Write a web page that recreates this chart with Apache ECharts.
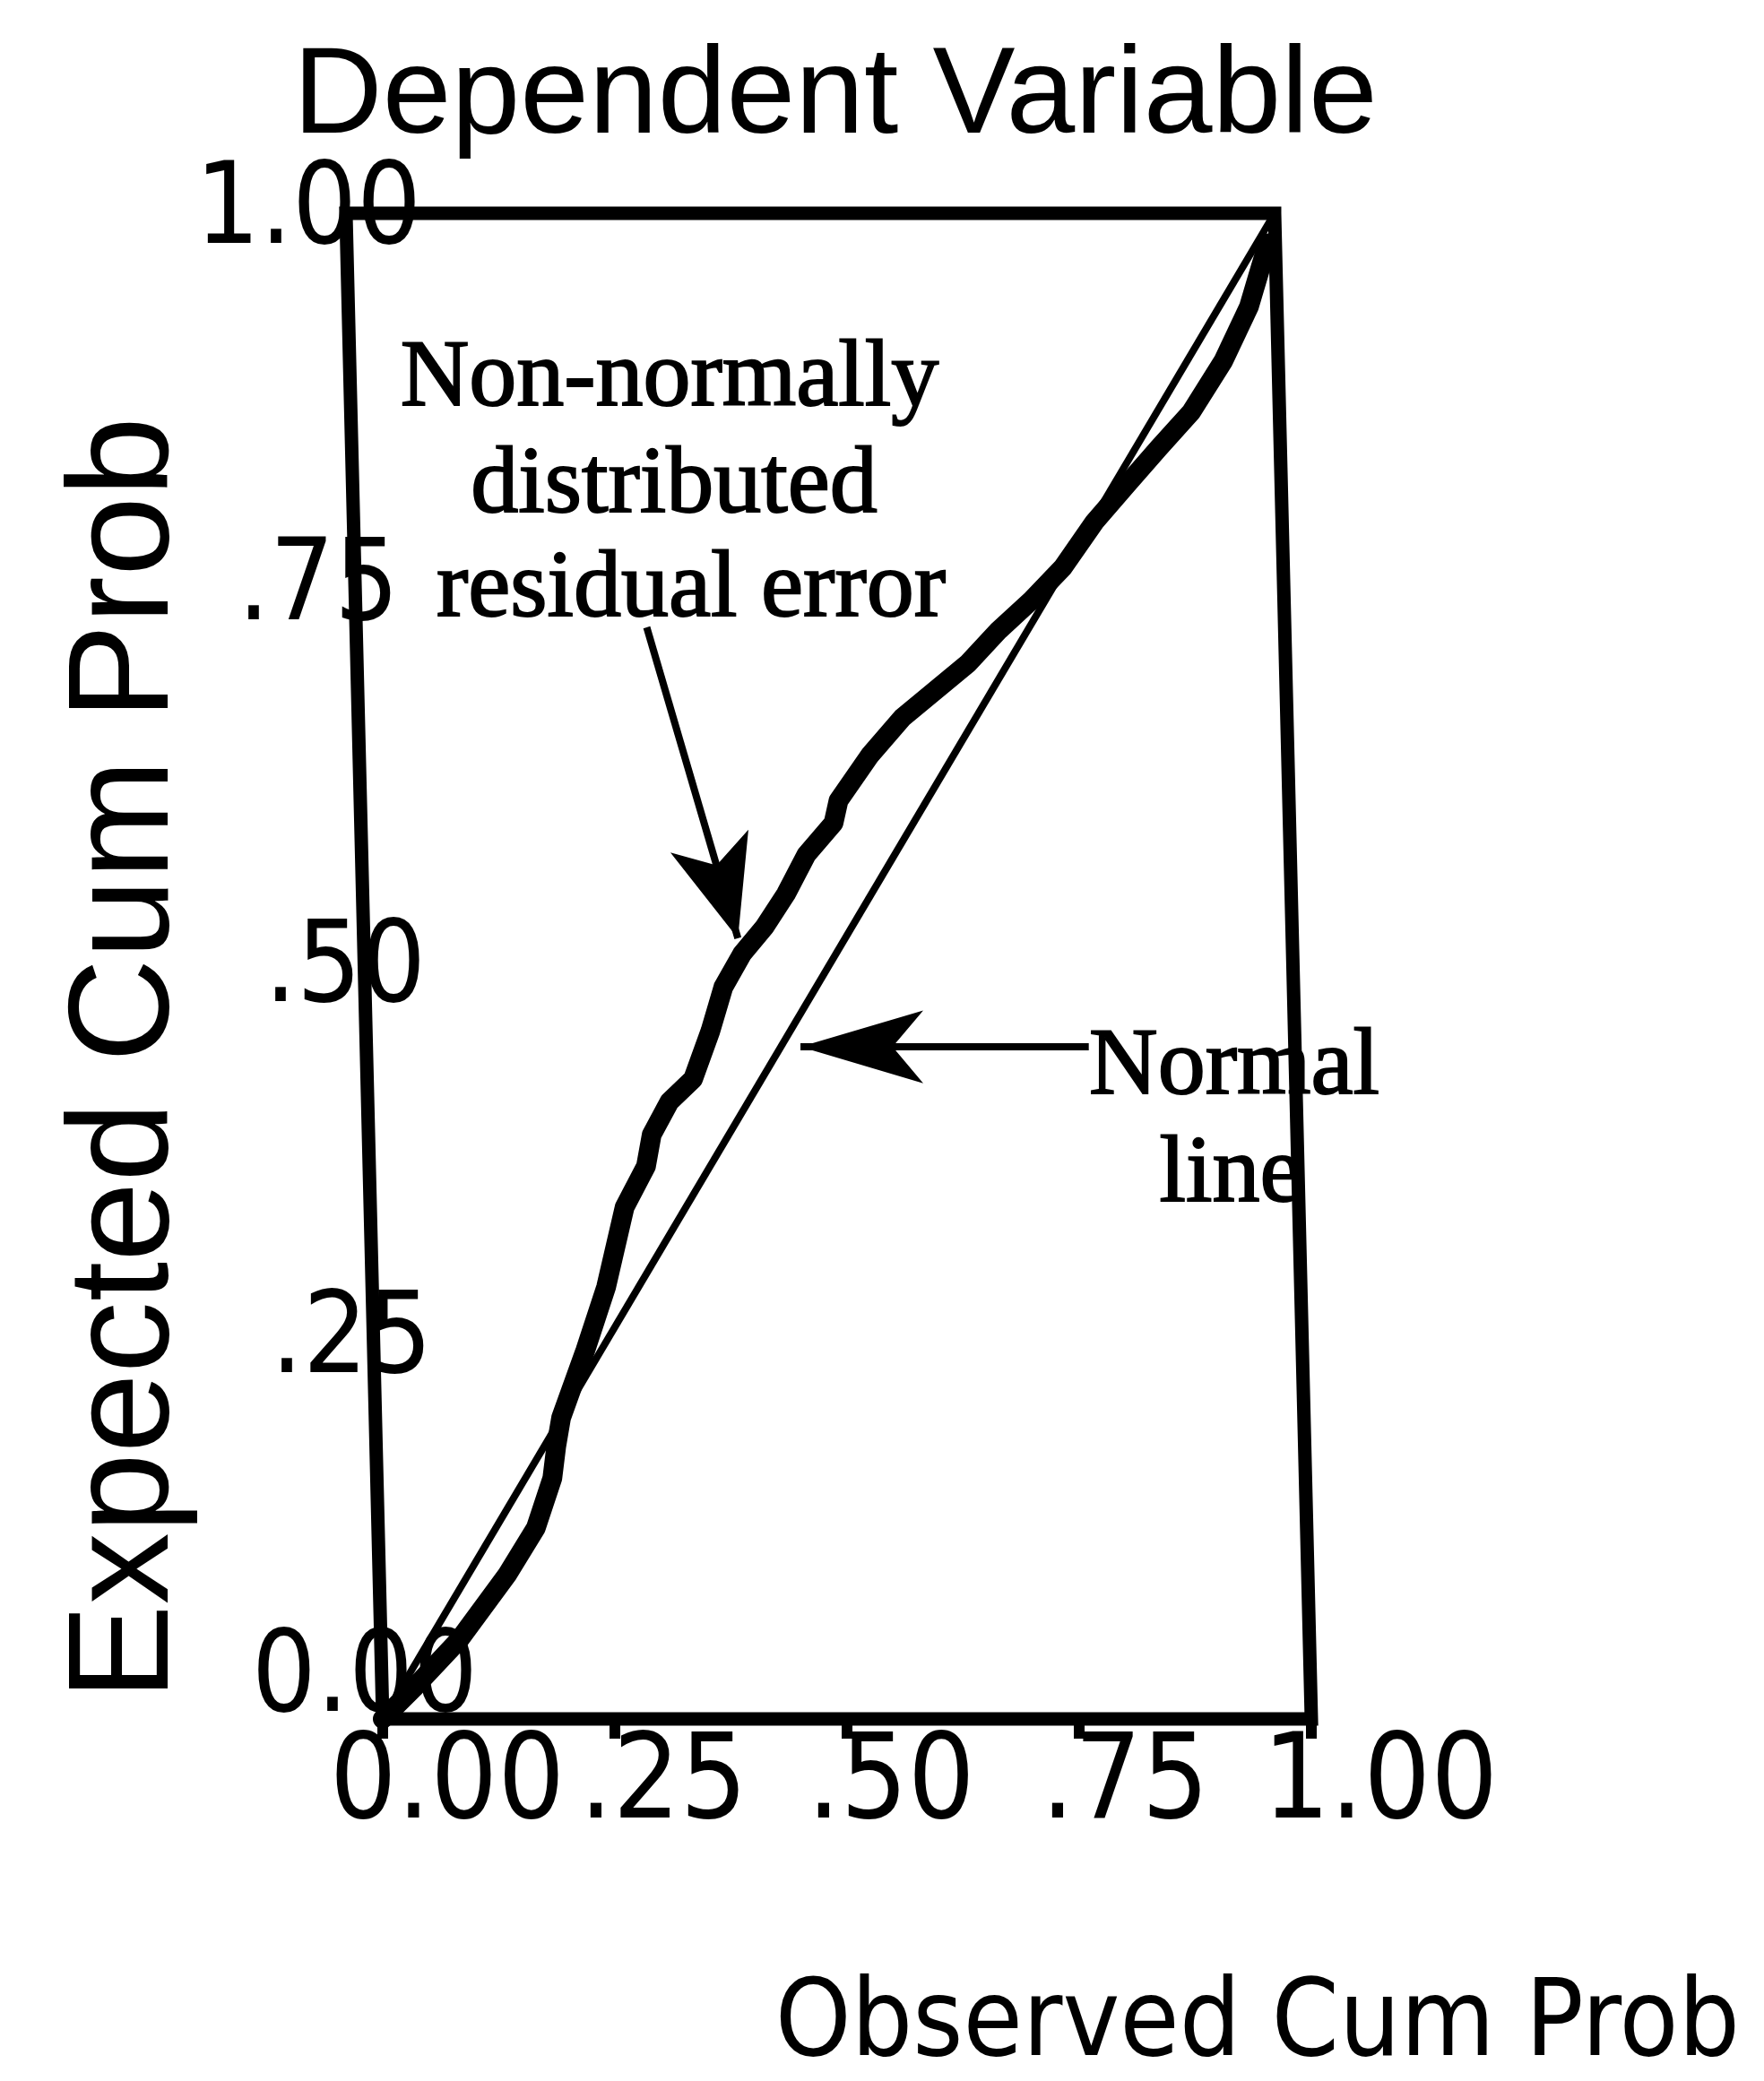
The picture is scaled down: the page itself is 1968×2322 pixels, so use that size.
<!DOCTYPE html>
<html>
<head>
<meta charset="utf-8">
<script src="https://cdn.jsdelivr.net/npm/echarts@6/dist/echarts.min.js"></script>
<style>
html,body{margin:0;padding:0;background:#ffffff;}
#chart{width:1968px;height:2322px;}
</style>
</head>
<body>
<div id="chart"></div>
<script>
// ---------------- data ----------------
const chartTitle = 'Dependent Variable';
const xAxisName = 'Observed Cum Prob';
const yAxisName = 'Expected Cum Prob';

const xTickValues = [0, 0.25, 0.5, 0.75, 1];
const xTickLabels = ['0.00', '.25', '.50', '.75', '1.00'];
const yTickValues = [0, 0.25, 0.5, 0.75, 1];
const yTickLabels = ['0.00', '.25', '.50', '.75', '1.00'];

// residual P-P curve (observed, expected cumulative probabilities)
const observedCumProb = [0, 0.035, 0.085, 0.138, 0.170, 0.189, 0.194, 0.200, 0.228, 0.252,
  0.274, 0.298, 0.305, 0.325, 0.351, 0.371, 0.386, 0.407, 0.432, 0.456,
  0.479, 0.509, 0.515, 0.550, 0.586, 0.622, 0.658, 0.692, 0.728, 0.763,
  0.798, 0.834, 0.869, 0.905, 0.941, 0.970, 0.984, 0.992];
const expectedCumProb = [0, 0.021, 0.053, 0.096, 0.127, 0.160, 0.181, 0.200, 0.245, 0.287,
  0.340, 0.367, 0.388, 0.410, 0.425, 0.457, 0.486, 0.508, 0.526, 0.548,
  0.574, 0.595, 0.610, 0.640, 0.665, 0.683, 0.701, 0.723, 0.743, 0.765,
  0.795, 0.820, 0.844, 0.868, 0.902, 0.938, 0.965, 0.980];

// normal (reference) line
const normalObserved = [0, 1];
const normalExpected = [0, 1];

// plot frame corners
const frameObserved = [0, 1, 1, 0, 0, 1];
const frameExpected = [1, 1, 0, 0, 1, 1];

// annotation texts and arrows (observed, expected)
const residualNoteLines = ['Non-normally', 'distributed', 'residual error'];
const normalNoteLines = ['Normal', 'line'];
const residualArrowFrom = [0.313, 0.725];
const residualArrowTo = [0.403, 0.5185];
const normalArrowFrom = [0.778, 0.4464];
const normalArrowTo = [0.4675, 0.4464];

// ---------------- helpers ----------------
// the scanned frame is slightly sheared: its left/right edges lean left toward the top
const SHEAR = 0.0396;
function pt(u, v) { return [u - SHEAR * v, v]; }
function pairs(us, vs) { return us.map((u, i) => pt(u, vs[i])); }

function hasFont(name) {
  const c = document.createElement('canvas').getContext('2d');
  const t = 'Observed Cum Prob 0.25 1.00';
  c.font = '100px monospace';
  const a = c.measureText(t).width;
  c.font = '100px "' + name + '", monospace';
  const b = c.measureText(t).width;
  return Math.abs(a - b) > 0.5;
}
let narrowFont = 'Liberation Sans', xTickSize = 116, yTickSize = 112, xNameSize = 116;
if (hasFont('Liberation Sans Narrow')) { narrowFont = 'Liberation Sans Narrow'; xTickSize = 154; yTickSize = 150; xNameSize = 148; }
else if (hasFont('DejaVu Sans Condensed')) { narrowFont = 'DejaVu Sans Condensed'; xTickSize = 131; yTickSize = 126; xNameSize = 120; }

// per-label fine placement (scan offsets)
const xShift = [72, 54, 49, 51, 77];
const yShift = [20, 5, -2, -32, -43];
const yRaise = [42, 0, -6, 0, 0];

const xRich = {}, yRich = {};
xTickLabels.forEach((l, i) => {
  const s = xShift[i];
  xRich['x' + i] = {fontFamily: narrowFont, fontSize: xTickSize, color: '#000',
    padding: s >= 0 ? [0, 0, 0, 2 * s] : [0, -2 * s, 0, 0]};
});
yTickLabels.forEach((l, i) => {
  const s = yShift[i], r = yRaise[i];
  yRich['y' + i] = {fontFamily: narrowFont, fontSize: yTickSize, color: '#000',
    padding: [r < 0 ? -2 * r : 0, s < 0 ? -2 * s : 0, r > 0 ? 2 * r : 0, s > 0 ? 2 * s : 0]};
});
function tickIndex(vals, v) {
  let best = 0;
  vals.forEach((t, i) => { if (Math.abs(t - v) < Math.abs(vals[best] - v)) best = i; });
  return best;
}

const serifFont = '106px "Liberation Serif"';
function note(text, x, y) {
  return {type: 'text', x: x, y: y, silent: true,
    style: {text: text, font: serifFont, fill: '#000', stroke: '#000', lineWidth: 2,
      align: 'center', verticalAlign: 'middle', textAlign: 'center', textVerticalAlign: 'middle'}};
}

function arrowSeries(name, from, to, headW, headL) {
  return {
    name: name, type: 'line', data: [], silent: true, xAxisIndex: 0, yAxisIndex: 0,
    markLine: {
      silent: true, animation: false,
      symbol: ['none', 'arrow'],
      symbolSize: [headW, headL],
      label: {show: false},
      lineStyle: {color: '#000', width: 8, type: 'solid'},
      emphasis: {disabled: true},
      data: [[{coord: pt(from[0], from[1])}, {coord: pt(to[0], to[1])}]]
    }
  };
}

// ---------------- chart ----------------
const PLOT_LEFT = 427, PLOT_TOP = 238, PLOT_W = 1036, PLOT_H = 1680;
const chart = echarts.init(document.getElementById('chart'), null, {renderer: 'canvas'});
const option = {
  backgroundColor: '#ffffff',
  animation: false,
  title: {
    text: chartTitle, left: 322, top: 36,
    textStyle: {fontFamily: 'Liberation Sans', fontSize: 138, fontWeight: 'normal', color: '#000'}
  },
  grid: [
    // plotting grid (sheared frame lives in it)
    {left: PLOT_LEFT - SHEAR * PLOT_W, top: PLOT_TOP, width: PLOT_W * (1 + SHEAR), height: PLOT_H, containLabel: false},
    // grid carrying the visible tick labels along the frame's bottom edge
    {left: PLOT_LEFT, top: PLOT_TOP, width: PLOT_W, height: PLOT_H, containLabel: false}
  ],
  xAxis: [
    {gridIndex: 0, type: 'value', min: -SHEAR, max: 1, show: false},
    {
      gridIndex: 1, type: 'value', min: 0, max: 1, interval: 0.25,
      axisLine: {show: false},
      axisTick: {show: true, inside: false, length: 22, lineStyle: {color: '#000', width: 12}},
      splitLine: {show: false},
      axisLabel: {
        margin: 10, align: 'center',
        formatter: v => { const i = tickIndex(xTickValues, v); return '{x' + i + '|' + xTickLabels[i] + '}'; },
        rich: xRich
      }
    }
  ],
  yAxis: [
    {gridIndex: 0, type: 'value', min: 0, max: 1, show: false},
    {
      gridIndex: 1, type: 'value', min: 0, max: 1, interval: 0.25,
      axisLine: {show: false}, axisTick: {show: false}, splitLine: {show: false},
      axisLabel: {
        margin: 40, align: 'center', verticalAlign: 'middle',
        formatter: v => { const i = tickIndex(yTickValues, v); return '{y' + i + '|' + yTickLabels[i] + '}'; },
        rich: yRich
      }
    }
  ],
  series: [
    {
      name: 'frame', type: 'line', xAxisIndex: 0, yAxisIndex: 0,
      data: pairs(frameObserved, frameExpected),
      symbol: 'none', clip: false, silent: true,
      lineStyle: {color: '#000', width: 15, join: 'miter', cap: 'square'}
    },
    {
      name: 'Normal line', type: 'line', xAxisIndex: 0, yAxisIndex: 0,
      data: pairs(normalObserved, normalExpected),
      symbol: 'none', clip: false, silent: true,
      lineStyle: {color: '#000', width: 8}
    },
    {
      name: 'Residual', type: 'line', xAxisIndex: 0, yAxisIndex: 0,
      data: pairs(observedCumProb, expectedCumProb),
      symbol: 'none', clip: false, silent: true,
      lineStyle: {color: '#000', width: 22, join: 'round', cap: 'round'}
    },
    arrowSeries('arrow1', residualArrowFrom, residualArrowTo, 68, 113),
    arrowSeries('arrow2', normalArrowFrom, normalArrowTo, 61, 137)
  ],
  graphic: [
    note(residualNoteLines[0], 747, 424),
    note(residualNoteLines[1], 752, 543),
    note(residualNoteLines[2], 771, 659),
    note(normalNoteLines[0], 1377, 1192),
    note(normalNoteLines[1], 1373, 1312),
    {type: 'text', x: 143, y: 1181, rotation: Math.PI / 2, silent: true,
      style: {text: yAxisName, font: '160px "Liberation Sans"', fill: '#000',
        align: 'center', verticalAlign: 'middle', textAlign: 'center', textVerticalAlign: 'middle'}},
    {type: 'text', x: 1403, y: 2262, silent: true,
      style: {text: xAxisName, font: xNameSize + 'px "' + narrowFont + '"', fill: '#000',
        align: 'center', verticalAlign: 'middle', textAlign: 'center', textVerticalAlign: 'middle'}}
  ]
};
chart.setOption(option);
</script>
</body>
</html>
